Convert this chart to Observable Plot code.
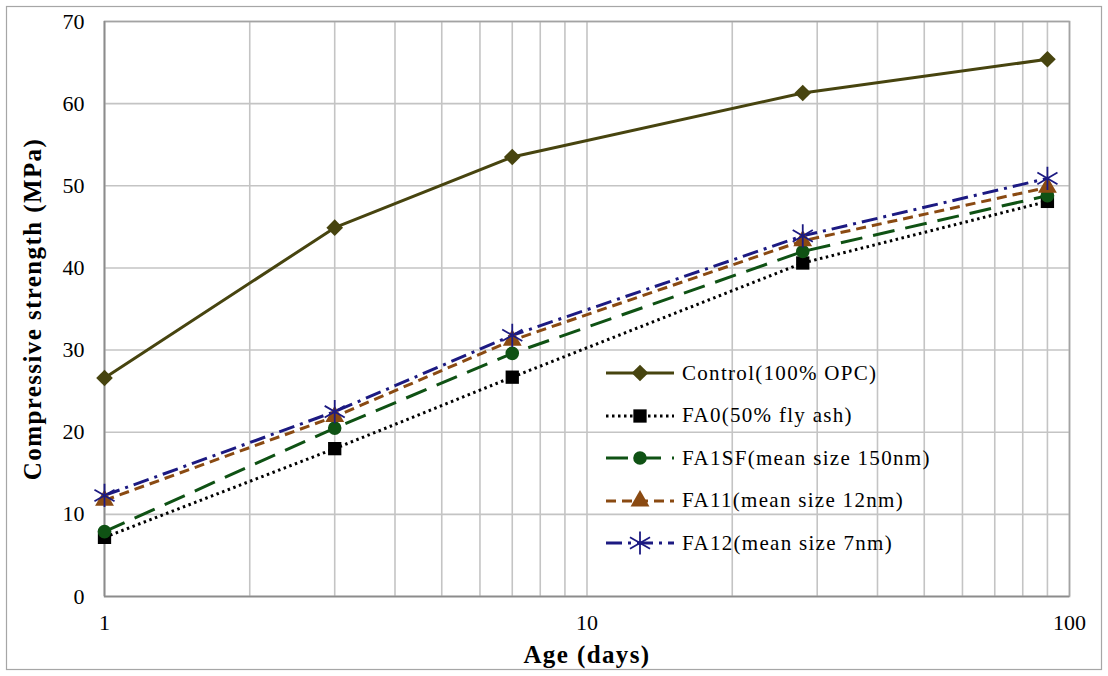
<!DOCTYPE html>
<html>
<head>
<meta charset="utf-8">
<script src="https://cdn.jsdelivr.net/npm/d3@7"></script>
<script src="https://cdn.jsdelivr.net/npm/@observablehq/plot@0.6"></script>
<style>
  html, body { margin: 0; padding: 0; background: #fff; }
  #wrap { position: relative; width: 1108px; height: 676px; font-family: "Liberation Serif", "Times New Roman", serif; }
  #legend { position: absolute; left: 604px; top: 352px; }
  .row { display: flex; align-items: center; height: 42.5px; }
  .row svg { display: block; }
  .row span { font-size: 21px; letter-spacing: 1.3px; color: #000; margin-left: 6px; white-space: nowrap; }
  .axis-title { letter-spacing: 1.4px; }
</style>
</head>
<body>
<div id="wrap"></div>
<script>
// Curing age (days) and compressive strength (MPa) per mix
const ages = [1, 3, 7, 28, 90];
const control = [26.6, 44.9, 53.5, 61.3, 65.4];
const fa0 = [7.2, 18.0, 26.7, 40.6, 48.1];
const fa1sf = [7.9, 20.5, 29.6, 42.0, 48.8];
const fa11 = [11.7, 21.9, 31.2, 43.3, 49.8];
const fa12 = [12.3, 22.5, 31.8, 43.9, 50.9];

const seriesNames = [
  "Control(100% OPC)",
  "FA0(50% fly ash)",
  "FA1SF(mean size 150nm)",
  "FA11(mean size 12nm)",
  "FA12(mean size 7nm)"
];
const seriesValues = [control, fa0, fa1sf, fa11, fa12];

const xTicks = [1, 10, 100];
const yTicks = [0, 10, 20, 30, 40, 50, 60, 70];

const xTitle = "Age (days)";
const yTitle = "Compressive strength (MPa)";

// Line and marker styling for each mix
const styles = [
  {color: "#47440f", dash: null, symbol: "diamond2", r: 7.5, fill: true},
  {color: "#000000", dash: "2.5,3.5", symbol: "square", r: 7.5, fill: true},
  {color: "#0f5214", dash: "22,11", symbol: "circle", r: 6.8, fill: true},
  {color: "#8a4a12", dash: "10,6", symbol: "triangle", r: 7, fill: true},
  {color: "#1c1a82", dash: "16,6,3,6", symbol: "asterisk", r: 11, fill: false}
];

const rows = [];
seriesNames.forEach((name, i) => {
  ages.forEach((a, j) => rows.push({series: name, idx: i, age: a, value: seriesValues[i][j]}));
});

// Minor log grid lines: 1..9, 10..90, 100
const gridX = d3.scaleLog().domain([1, 100]).ticks();

const marks = [
  Plot.gridX(gridX, {stroke: "#c4c4c4", strokeWidth: 1.6, strokeOpacity: 1}),
  Plot.gridY(yTicks, {stroke: "#c4c4c4", strokeWidth: 1.6, strokeOpacity: 1}),
  Plot.frame({stroke: "#a3a3a3", strokeWidth: 1.6}),
  Plot.ruleX([1], {stroke: "#8c8c8c", strokeWidth: 1.6}),
  Plot.ruleY([0], {stroke: "#8c8c8c", strokeWidth: 1.6}),
  Plot.axisX(xTicks, {tickSize: 0, tickPadding: 18, fontSize: 22, label: null, tickFormat: d => String(d)}),
  Plot.axisY(yTicks, {tickSize: 0, tickPadding: 20, fontSize: 22, label: null}),
  Plot.text([xTitle], {frameAnchor: "bottom", dy: 66, fontSize: 25, fontWeight: "bold", textAnchor: "middle"}),
  Plot.text([yTitle], {frameAnchor: "left", dx: -72, rotate: -90, fontSize: 25, fontWeight: "bold", textAnchor: "middle"})
];

seriesNames.forEach((name, i) => {
  const s = styles[i];
  const data = rows.filter(d => d.idx === i);
  marks.push(Plot.line(data, {
    x: "age", y: "value", stroke: s.color, strokeWidth: 3,
    strokeDasharray: s.dash ?? undefined, strokeLinecap: "butt"
  }));
});
seriesNames.forEach((name, i) => {
  const s = styles[i];
  const data = rows.filter(d => d.idx === i);
  marks.push(Plot.dot(data, s.fill
    ? {x: "age", y: "value", symbol: () => s.symbol, r: s.r, fill: s.color, stroke: "none"}
    : {x: "age", y: "value", symbol: () => s.symbol, r: s.r, fill: "none", stroke: s.color, strokeWidth: 1.8}));
});

const chart = Plot.plot({
  width: 1108,
  height: 676,
  marginLeft: 104,
  marginRight: 39,
  marginTop: 21,
  marginBottom: 80,
  style: {fontFamily: "'Liberation Serif', 'Times New Roman', serif", color: "#000", background: "#fff"},
  x: {type: "log", domain: [1, 100], axis: null},
  y: {domain: [0, 70], axis: null},
  symbol: {type: "identity"},
  marks
});

// Slightly tracked bold axis titles
d3.select(chart).selectAll("text")
  .filter(function () { return this.textContent === xTitle || this.textContent === yTitle; })
  .classed("axis-title", true);

// Outer chart-area border
d3.select(chart).insert("rect", ":first-child")
  .attr("x", 6.5).attr("y", 6.5).attr("width", 1095).attr("height", 663)
  .attr("fill", "#fff").attr("stroke", "#a6a6a6").attr("stroke-width", 1.2);

const wrap = document.getElementById("wrap");
wrap.appendChild(chart);

// Legend drawn over the plot area
const legend = document.createElement("div");
legend.id = "legend";
const symMap = {diamond2: d3.symbolDiamond2, square: d3.symbolSquare, circle: d3.symbolCircle, triangle: d3.symbolTriangle, asterisk: d3.symbolAsterisk};
seriesNames.forEach((name, i) => {
  const s = styles[i];
  const row = document.createElement("div");
  row.className = "row";
  const sw = d3.create("svg").attr("width", 72).attr("height", 24);
  sw.append("line").attr("x1", 2).attr("x2", 70).attr("y1", 12).attr("y2", 12)
    .attr("stroke", s.color).attr("stroke-width", 3)
    .attr("stroke-dasharray", s.dash ?? null);
  const path = d3.symbol(symMap[s.symbol], Math.PI * s.r * s.r)();
  const p = sw.append("path").attr("d", path).attr("transform", "translate(36,12)");
  if (s.fill) p.attr("fill", s.color); else p.attr("fill", "none").attr("stroke", s.color).attr("stroke-width", 1.8);
  row.appendChild(sw.node());
  const label = document.createElement("span");
  label.textContent = name;
  row.appendChild(label);
  legend.appendChild(row);
});
wrap.appendChild(legend);
</script>
</body>
</html>
